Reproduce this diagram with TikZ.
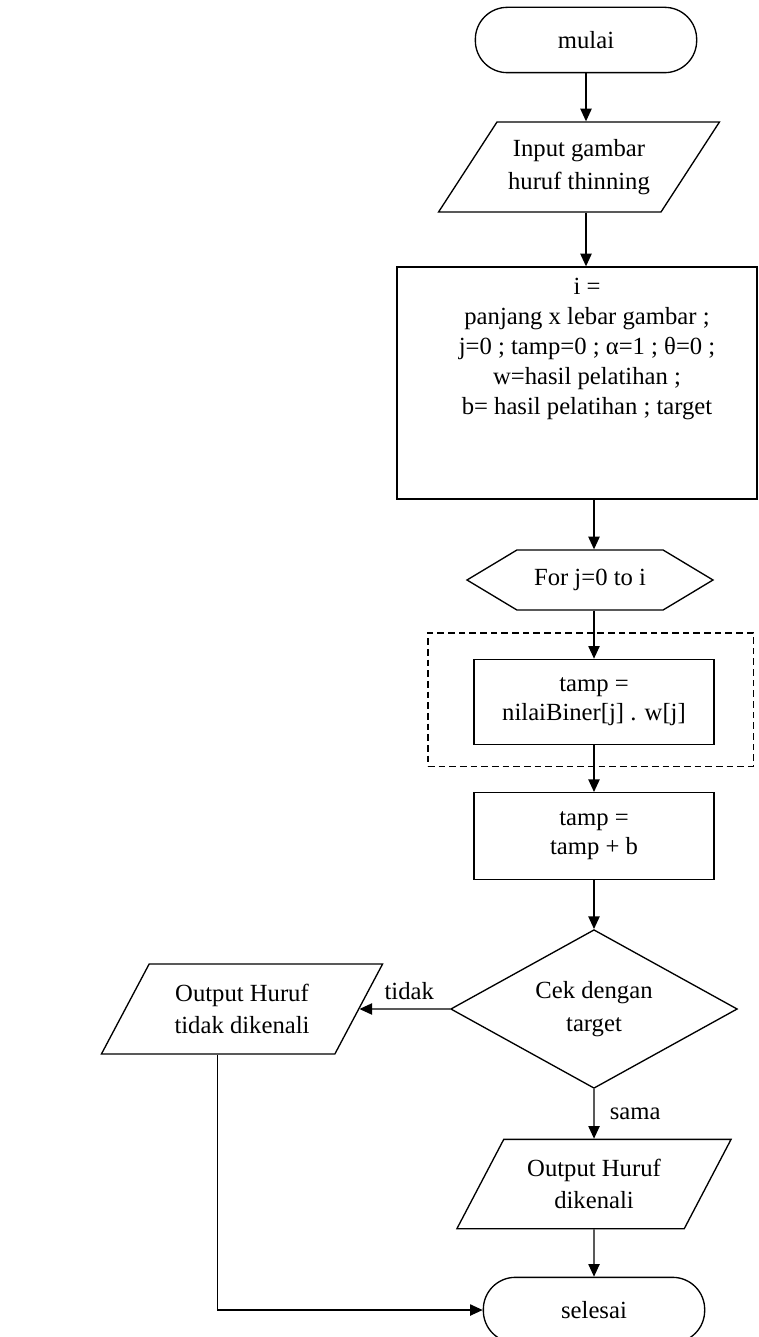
\documentclass[tikz,border=0pt]{standalone}
\usepackage{fontspec}
\setmainfont{Liberation Serif}
\usetikzlibrary{arrows.meta, shapes}

\begin{document}
\begin{tikzpicture}[
      x=0.75pt, y=-0.75pt,
      every node/.style={font=\fontsize{18.5}{24.5}\selectfont},
      term/.style={draw, line width=1pt, rounded corners=24pt, minimum width=166pt, minimum height=49pt},
      io/.style={draw, line width=1pt, trapezium, trapezium stretches=true, align=center,
        minimum width=211pt, minimum height=67.5pt},
      proc/.style={draw, line width=1pt, minimum width=180pt, minimum height=64pt, align=center,
        font=\fontsize{18.5}{22}\selectfont},
      prep/.style={draw, line width=1pt, signal, signal to=west and east, signal pointer angle=62,
        minimum width=184.5pt, minimum height=45pt},
      decision/.style={draw, line width=1pt, diamond, aspect=1.8, inner sep=0pt, align=center,
        minimum width=215pt, minimum height=119pt},
      arr/.style={-{Triangle[length=9.5pt, width=8.5pt]}, line width=1pt}
    ]
      \useasboundingbox (0,0) rectangle (759,1337);

      % Step 1
      \node[term] (mulai) at (586,40) {mulai};

      % Step 2
      \node[io, trapezium left angle=50, trapezium right angle=130] (input) at (579,167) {Input gambar\\huruf thinning};

      % Step 3
      \node[draw, line width=1pt, minimum width=270pt, minimum height=174pt] (init) at (577,383) {};
      \node[anchor=north, align=center, inner sep=0pt, font=\fontsize{18.5}{22.5}\selectfont] (inittxt) at (587,278)
        {i =\\panjang x lebar gambar ;\\j=0 ; tamp=0 ;  α=1 ; θ=0 ;\\w=hasil pelatihan ;\\b= hasil pelatihan ; target};

      % Step 4
      \node[prep] (for) at (590,580) {For j=0 to i};

      % Step 5
      \node[draw, dashed, dash pattern=on 5pt off 3pt, line width=1pt, minimum width=244pt, minimum height=100pt] (loop) at (590.5,699.5) {};
      \node[proc] (calc1) at (594,702) {tamp =\\nilaiBiner[j] . w[j]};

      % Step 6
      \node[proc, minimum height=65pt] (calc2) at (594,836) {tamp =\\tamp + b};

      % Step 7
      \node[decision] (cek) at (594,1009) {Cek dengan\\target};

      % Outputs
      \node[io, trapezium left angle=58, trapezium right angle=122] (notok) at (242,1009) {Output Huruf\\tidak dikenali};
      \node[io, trapezium left angle=58, trapezium right angle=122, minimum width=206pt, minimum height=67pt] (ok) at (594,1184) {Output Huruf\\dikenali};

      % End
      \node[term] (selesai) at (594,1310) {selesai};

      % Arrows
      \draw[arr] (mulai) -- (mulai |- input.north);
      \draw[arr] (input.south -| mulai) -- (init.north -| mulai);
      \draw[arr] (init.south -| calc1) -- (for.north -| calc1);
      \draw[arr] (for.south -| calc1) -- (calc1);
      \draw[arr] (calc1) -- (calc2);
      \draw[arr] (calc2) -- (cek);
      \draw[arr] (cek) -- node[above, pos=0.45, yshift=3pt] (lbltidak) {tidak} (notok);
      \draw[arr] (cek) -- node[right, pos=0.5, xshift=8pt] (lblsama) {sama} (ok);
      \draw[arr] (ok) -- (selesai);
      \draw[arr] (notok.bottom side) |- (selesai.west);
    \end{tikzpicture}
\end{document}
